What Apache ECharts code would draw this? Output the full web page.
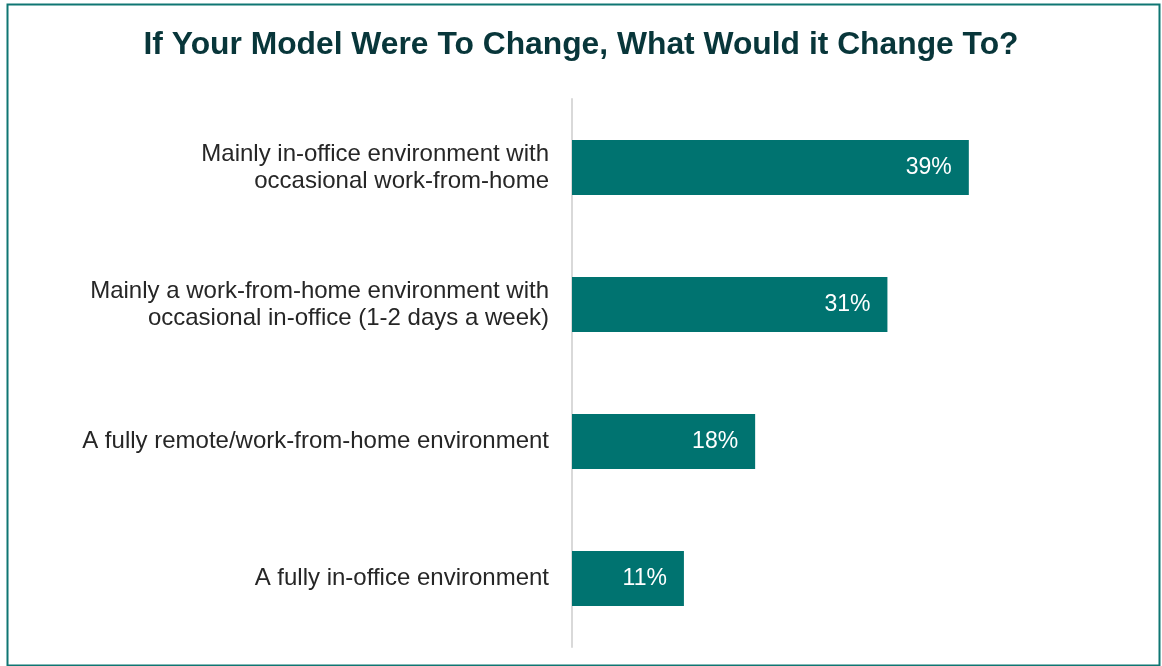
<!DOCTYPE html>
<html><head><meta charset="utf-8">
<script src="https://cdn.jsdelivr.net/npm/echarts@6/dist/echarts.min.js"></script>
<style>html,body{margin:0;padding:0;background:#fff}#c{width:1162px;height:666px}</style>
</head><body><div id="c"></div>
<script>
const titleText = 'If Your Model Were To Change, What Would it Change To?';
const categories = [
  'Mainly in-office environment with\noccasional work-from-home',
  'Mainly a work-from-home environment with\noccasional in-office (1-2 days a week)',
  'A fully remote/work-from-home environment',
  'A fully in-office environment'
];
const values = [39, 31, 18, 11];

const chart = echarts.init(document.getElementById('c'), null, {renderer: 'canvas'});
chart.setOption({
  backgroundColor: '#fff',
  animation: false,
  graphic: [{
    type: 'rect', left: 5, top: 2, silent: true,
    shape: {x: 0, y: 0, width: 1152, height: 661},
    style: {fill: 'none', stroke: '#0f7673', lineWidth: 2}
  }],
  title: {
    text: titleText, left: 'center', top: 24,
    textStyle: {fontFamily: 'Liberation Sans, Arial', fontWeight: 'bold', fontSize: 31.8, color: '#08363a'}
  },
  grid: {left: 572, top: 99, width: 407, height: 548, containLabel: false},
  xAxis: {
    type: 'value', min: 0, max: 40, show: false
  },
  yAxis: {
    type: 'category', inverse: true, data: categories,
    axisLine: {show: true, lineStyle: {color: '#d9d9d9', width: 2}},
    axisTick: {show: false},
    axisLabel: {margin: 23, fontFamily: 'Liberation Sans, Arial', fontSize: 24, color: '#262626', lineHeight: 27, align: 'right'}
  },
  series: [{
    type: 'bar', data: values, barCategoryGap: '60%',
    itemStyle: {color: '#007370'},
    label: {show: true, position: 'insideRight', distance: 17, formatter: '{c}%',
      fontFamily: 'Liberation Sans, Arial', fontSize: 23, color: '#fff'}
  }]
});
</script></body></html>
